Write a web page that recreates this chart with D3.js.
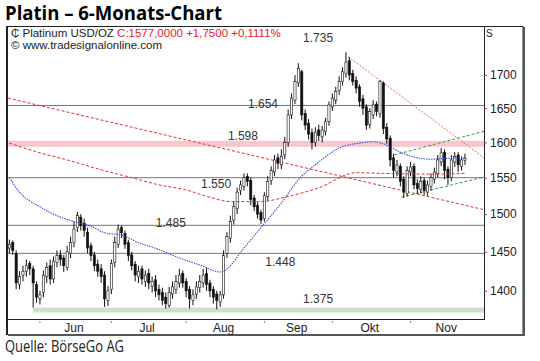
<!DOCTYPE html>
<html>
<head>
<meta charset="utf-8">
<script src="https://cdn.jsdelivr.net/npm/d3@7"></script>
<style>
  body { margin: 0; background: #fff; }
  svg { display: block; }
  text { font-family: "Liberation Sans", Arial, sans-serif; }
</style>
</head>
<body>
<svg id="chart" width="540" height="361"></svg>
<script>
// Platin daily candles, first bar = Mon 21 May 2012 (weekdays only)
var firstDay = new Date(2012, 4, 21);

var opens = [1455,1462,1448,1408,1420,1425,1435,1428,1408,1390,1398,1418,1432,1415,1436,1446,1442,1430,1448,1462,
  1482,1496,1488,1476,1458,1446,1434,1428,1420,1388,1402,1436,1460,1482,1474,1462,1446,1434,1418,1428,
  1412,1422,1406,1414,1402,1398,1392,1382,1396,1402,1410,1422,1412,1402,1388,1396,1404,1410,1422,1410,
  1402,1396,1386,1395,1448,1468,1492,1508,1532,1538,1552,1546,1522,1512,1502,1494,1524,1546,1558,1578,
  1568,1582,1600,1640,1662,1688,1705,1642,1628,1614,1600,1618,1608,1616,1630,1652,1662,1676,1690,1702,
  1722,1702,1692,1682,1664,1652,1626,1640,1656,1642,1688,1622,1606,1578,1558,1566,1548,1528,1558,1566,
  1542,1534,1546,1530,1538,1548,1556,1572,1586,1562,1550,1572,1582,1566,1574];
var highs = [1466,1465,1452,1425,1432,1440,1438,1432,1412,1400,1426,1436,1440,1444,1452,1452,1446,1458,1470,1490,
  1503,1500,1494,1482,1462,1450,1440,1434,1425,1406,1440,1470,1486,1485,1478,1466,1450,1438,1432,1432,
  1426,1428,1418,1420,1408,1404,1398,1405,1412,1420,1428,1426,1416,1406,1402,1412,1420,1428,1430,1414,
  1406,1400,1400,1452,1476,1498,1518,1536,1546,1556,1556,1550,1526,1516,1506,1530,1552,1566,1582,1584,
  1590,1608,1648,1672,1700,1718,1708,1648,1634,1620,1622,1626,1624,1636,1660,1672,1682,1698,1712,1735,
  1728,1708,1698,1686,1670,1656,1650,1662,1660,1692,1690,1628,1610,1584,1575,1570,1552,1566,1572,1570,
  1548,1552,1550,1546,1556,1564,1582,1592,1590,1566,1582,1586,1586,1580,1584];
var lows = [1448,1446,1402,1402,1412,1418,1420,1379,1385,1383,1392,1410,1408,1410,1430,1432,1424,1426,1442,1456,
  1476,1478,1470,1448,1438,1425,1418,1410,1380,1381,1396,1430,1455,1468,1454,1438,1426,1412,1410,1408,
  1405,1402,1398,1392,1388,1382,1378,1379,1390,1396,1404,1404,1392,1378,1382,1390,1398,1404,1400,1392,
  1384,1377,1380,1390,1442,1462,1486,1500,1526,1532,1538,1512,1504,1494,1487,1490,1518,1540,1552,1562,
  1562,1576,1594,1634,1656,1682,1632,1618,1604,1590,1594,1602,1600,1610,1624,1646,1656,1670,1684,1696,
  1692,1684,1672,1652,1640,1618,1620,1634,1638,1636,1612,1598,1566,1550,1552,1538,1522,1524,1552,1534,
  1528,1528,1526,1525,1532,1542,1550,1566,1548,1540,1545,1565,1558,1560,1568];
var closes = [1460,1452,1410,1418,1425,1432,1428,1410,1392,1395,1420,1430,1415,1438,1445,1440,1432,1450,1462,1480,
  1498,1485,1478,1455,1445,1432,1425,1418,1390,1400,1435,1462,1480,1475,1460,1445,1432,1420,1425,1415,
  1420,1410,1412,1400,1395,1388,1384,1398,1405,1412,1420,1410,1400,1390,1395,1405,1412,1420,1408,1400,
  1392,1388,1395,1445,1470,1490,1510,1530,1540,1550,1545,1520,1510,1500,1492,1525,1545,1560,1575,1570,
  1580,1600,1640,1665,1690,1710,1640,1625,1612,1600,1615,1610,1618,1630,1655,1665,1675,1690,1705,1720,
  1700,1690,1680,1660,1650,1625,1645,1655,1645,1690,1620,1605,1575,1560,1568,1545,1530,1560,1565,1540,
  1535,1545,1532,1540,1550,1558,1575,1585,1560,1550,1575,1580,1568,1575,1577];

// moving averages: bar index / price
var maBlueIdx = [0,3,9,15,19,24,28,33,38,44,50,56,62,64,69,74,80,85,91,97,103,107,111,115,119,124,128,134];
var maBlueVal = [1550,1530,1510,1496,1490,1484,1475,1472,1462,1453,1442,1433,1424,1428,1455,1482,1515,1547,1572,1592,1599,1601,1596,1586,1579,1576,1577,1578];
var maRedIdx = [0,9,17,27,36,44,52,59,65,74,81,91,102,110,124,134];
var maRedVal = [1599,1585,1575,1561,1550,1540,1533,1523,1517,1517,1523,1536,1557,1556,1555,1556];

// horizontal marks
var levelLines = [1654, 1550, 1485, 1448];
var levelLabels = ["1.735","1.654","1.598","1.550","1.485","1.448","1.375"];
var levelLabelVal = [1735, 1654, 1598, 1550, 1485, 1448, 1375];
var levelLabelIdx = [90.8, 74.6, 68.7, 60.8, 47.5, 79.7, 90.8];

// trend lines [idx1, price1, idx2, price2]
var trendLong = [-0.4, 1665, 139.6, 1506];
var trendTop = [99.7, 1728, 139.6, 1578];
var channelUp = [113.2, 1582, 139.6, 1616];
var channelDown = [115.3, 1523, 139.6, 1551];

var yTicks = [1400, 1450, 1500, 1550, 1600, 1650, 1700];
var monthNames = ["Jun", "Jul", "Aug", "Sep", "Okt", "Nov"];

var svg = d3.select("#chart");
var plotL = 8, plotR = 484, plotT = 27, plotB = 319;

var x = d3.scaleLinear().domain([-0.4, 139.6]).range([plotL, plotR]);
var y = d3.scaleLog().domain([1365, 1775]).range([plotB, plotT]);

// trading days for month marks
var days = [];
var d = new Date(firstDay);
while (days.length < 150) {
    if (d.getDay() != 0 && d.getDay() != 6) days.push(new Date(d));
    d.setDate(d.getDate() + 1);
}
var monthStarts = [];
days.forEach(function(day, i){
    if (i > 0 && day.getMonth() != days[i-1].getMonth()) monthStarts.push(i);
});

svg.append("defs").append("clipPath").attr("id", "plotclip")
    .append("rect").attr("x", plotL).attr("y", plotT).attr("width", plotR - plotL).attr("height", plotB - plotT);

// title
svg.append("text").attr("x", 5).attr("y", 20)
    .attr("textLength", 217).attr("lengthAdjust", "spacingAndGlyphs")
    .style("font-family", "'Open Sans', sans-serif").style("font-weight", "bold").style("font-size", "19px")
    .text("Platin – 6-Monats-Chart");

svg.append("text").attr("x", 5).attr("y", 352)
    .attr("textLength", 119).attr("lengthAdjust", "spacingAndGlyphs")
    .style("font-family", "'Open Sans', sans-serif").style("font-size", "16px").attr("fill", "#222")
    .text("Quelle: BörseGo AG");

var plot = svg.append("g").attr("clip-path", "url(#plotclip)");

// bands
plot.append("rect").attr("x", plotL).attr("width", plotR - plotL)
    .attr("y", y(1598) - 3).attr("height", 6).attr("fill", "#f8c6cc");
plot.append("rect").attr("x", x(7)).attr("width", plotR - x(7))
    .attr("y", y(1376) - 2.5).attr("height", 5).attr("fill", "#c8e2c6");

plot.selectAll(".lvl").data(levelLines).enter().append("line")
    .attr("x1", plotL).attr("x2", plotR)
    .attr("y1", function(v){ return y(v) }).attr("y2", function(v){ return y(v) })
    .attr("stroke", "#777").attr("stroke-width", 1);

function trend(t, color, dash){
    plot.append("line")
        .attr("x1", x(t[0])).attr("y1", y(t[1])).attr("x2", x(t[2])).attr("y2", y(t[3]))
        .attr("stroke", color).attr("stroke-width", 1).attr("stroke-dasharray", dash);
}
trend(trendLong, "#e0303a", "3,2");
trend(trendTop, "#ec7070", "2,1.5");
trend(channelUp, "#3f9a3f", "3,2");
trend(channelDown, "#3f9a3f", "3,2");

// candles
var bw = 2.2;
var candles = plot.selectAll(".c").data(closes).enter().append("g");
candles.append("line")
    .attr("x1", function(c,i){ return x(i) }).attr("x2", function(c,i){ return x(i) })
    .attr("y1", function(c,i){ return y(highs[i]) }).attr("y2", function(c,i){ return y(lows[i]) })
    .attr("stroke", "#111").attr("stroke-width", 1);
candles.append("rect")
    .attr("x", function(c,i){ return x(i) - bw/2 })
    .attr("width", bw)
    .attr("y", function(c,i){ return y(Math.max(c, opens[i])) })
    .attr("height", function(c,i){ return Math.max(1, y(Math.min(c, opens[i])) - y(Math.max(c, opens[i]))) })
    .attr("fill", function(c,i){ return c >= opens[i] ? "#fff" : "#111" })
    .attr("stroke", "#111").attr("stroke-width", 0.6);

// moving averages
var line = d3.line().curve(d3.curveMonotoneX)
    .x(function(p){ return x(p[0]) }).y(function(p){ return y(p[1]) });
plot.append("path").attr("d", line(maRedIdx.map(function(v,i){ return [v, maRedVal[i]] })))
    .attr("fill", "none").attr("stroke", "#e0303a").attr("stroke-width", 1).attr("stroke-dasharray", "3,2");
plot.append("path").attr("d", line(maBlueIdx.map(function(v,i){ return [v, maBlueVal[i]] })))
    .attr("fill", "none").attr("stroke", "#4b4bdc").attr("stroke-width", 1.1).attr("stroke-dasharray", "1.5,1");

// level labels
svg.selectAll(".ll").data(levelLabels).enter().append("text")
    .attr("x", function(t,i){ return x(levelLabelIdx[i]) })
    .attr("y", function(t,i){ return y(levelLabelVal[i]) + [-10, 3, -4, 10, 1.5, 13, -8][i] })
    .attr("text-anchor", "middle").style("font-size", "12px").attr("fill", "#333")
    .text(function(t){ return t });

// frame
svg.append("line").attr("x1", plotL).attr("x2", plotR).attr("y1", plotB + 0.5).attr("y2", plotB + 0.5).attr("stroke", "#222");
svg.append("line").attr("x1", plotR + 0.5).attr("x2", plotR + 0.5).attr("y1", plotT).attr("y2", plotB + 1).attr("stroke", "#222");
svg.append("rect").attr("x", 7).attr("y", 26.5).attr("width", 516).attr("height", 308)
    .attr("fill", "none").attr("stroke", "#222").attr("stroke-width", 1);
svg.append("line").attr("x1", 7).attr("x2", 7).attr("y1", 26).attr("y2", 335).attr("stroke", "#222").attr("stroke-width", 2);
svg.append("line").attr("x1", 8).attr("x2", 524).attr("y1", 335).attr("y2", 335).attr("stroke", "#555").attr("stroke-width", 2);
svg.append("line").attr("x1", 524).attr("x2", 524).attr("y1", 27).attr("y2", 336).attr("stroke", "#555").attr("stroke-width", 2);

// right axis
var yAxis = svg.append("g").attr("transform", "translate(" + plotR + ",0)")
    .call(d3.axisRight(y).tickValues(yTicks).tickSize(3).tickPadding(3).tickFormat(d3.format("d")));
yAxis.select(".domain").remove();
yAxis.selectAll("text").style("font-size", "12px").style("font-family", "'Liberation Sans', Arial").attr("fill", "#222");
yAxis.selectAll("line").attr("stroke", "#666");
svg.append("text").attr("x", 486).attr("y", 37).style("font-size", "10px").attr("fill", "#222").text("S");

// month marks
svg.selectAll(".mt").data(monthStarts.slice(0, 6)).enter().append("rect")
    .attr("x", function(i){ return x(i) - 0.5 }).attr("y", plotB + 2).attr("width", 1).attr("height", 2)
    .attr("fill", "#888");
svg.selectAll(".ml").data(monthNames).enter().append("text")
    .attr("x", function(m,k){ var a = monthStarts[k], b = monthStarts[k+1]; return x((a + b - 1) / 2) })
    .attr("y", 332).attr("text-anchor", "middle").style("font-size", "12px").attr("fill", "#222")
    .text(function(m){ return m });

// header
var h = svg.append("text").attr("x", 11).attr("y", 37).style("font-size", "11.5px");
h.append("tspan").attr("fill", "#222").text("₵ Platinum USD/OZ ");
h.append("tspan").attr("fill", "#e8202a").text("C:1577,0000 +1,7500 +0,1111%");
svg.append("text").attr("x", 11).attr("y", 49).style("font-size", "11.5px").attr("fill", "#222")
    .text("© www.tradesignalonline.com");
</script>
</body>
</html>
